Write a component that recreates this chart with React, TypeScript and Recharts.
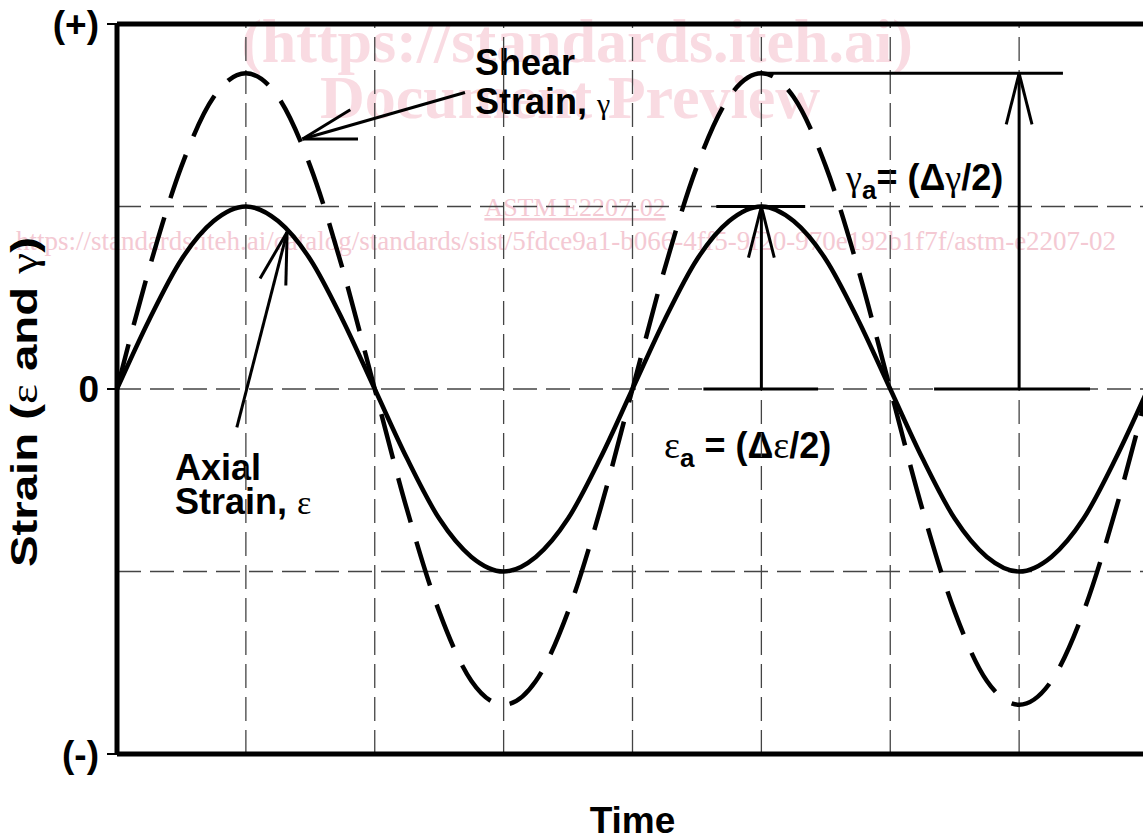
import { LineChart, Line, XAxis, YAxis, ReferenceLine } from 'recharts';

// time in quarter-cycles, read along the x axis
const time = [
  0, 0.25, 0.5, 0.75, 1, 1.25, 1.5, 1.75, 2, 2.25, 2.5, 2.75, 3, 3.25, 3.5, 3.75, 4,
  4.25, 4.5, 4.75, 5, 5.25, 5.5, 5.75, 6, 6.25, 6.5, 6.75, 7, 7.25, 7.5, 7.75, 8,
];
const axialStrain = [
  0, 0.38, 0.71, 0.92, 1, 0.92, 0.71, 0.38, 0, -0.38, -0.71, -0.92, -1, -0.92, -0.71, -0.38, 0,
  0.38, 0.71, 0.92, 1, 0.92, 0.71, 0.38, 0, -0.38, -0.71, -0.92, -1, -0.92, -0.71, -0.38, 0,
];
const shearStrain = [
  0, 0.66, 1.22, 1.6, 1.73, 1.6, 1.22, 0.66, 0, -0.66, -1.22, -1.6, -1.73, -1.6, -1.22, -0.66, 0,
  0.66, 1.22, 1.6, 1.73, 1.6, 1.22, 0.66, 0, -0.66, -1.22, -1.6, -1.73, -1.6, -1.22, -0.66, 0,
];

const gridTimes = [1, 2, 3, 4, 5, 6, 7];
const gridStrains = [-1, 0, 1];
const strainTicks = [-2, 0, 2];
const strainTickLabels: Record<number, string> = { [-2]: '(-)', 0: '0', 2: '(+)' };

// annotation strokes, [t1, strain1, t2, strain2]
const annotationLines = [
  // shear label pointer
  [2.7, 1.625, 1.44, 1.37],
  [1.44, 1.37, 1.81, 1.53],
  [1.44, 1.37, 1.87, 1.37],
  // axial label pointer
  [0.93, -0.21, 1.32, 0.86],
  [1.32, 0.86, 1.11, 0.605],
  [1.32, 0.86, 1.31, 0.567],
  // epsilon amplitude
  [4.55, 0, 5.44, 0],
  [4.65, 1, 5.34, 1],
  [5, 0, 5, 1],
  [5, 1, 4.9, 0.72],
  [5, 1, 5.1, 0.72],
  // gamma amplitude
  [6.34, 0, 7.55, 0],
  [5, 1.73, 7.34, 1.73],
  [7, 0, 7, 1.73],
  [7, 1.73, 6.9, 1.45],
  [7, 1.73, 7.1, 1.45],
];

const data = time.map((t, i) => ({ t, axial: axialStrain[i], shear: shearStrain[i] }));

const SANS = '"Liberation Sans", Arial, sans-serif';
const SERIF = '"Liberation Serif", "Times New Roman", serif';
const PINK = '#f9dbe2';
const PINK_SMALL = '#f4c9d3';

export default function App() {
  return (
    <div
      style={{
        position: 'absolute',
        left: 0,
        top: 0,
        width: 1143,
        height: 840,
        overflow: 'hidden',
        background: '#fff',
      }}
    >
      <LineChart width={1150} height={840} data={data} margin={{ top: 24, right: 2, bottom: 0, left: 0 }}>
        {/* watermark */}
        <text x={577} y={62} textAnchor="middle" fontFamily={SERIF} fontWeight="bold" fontSize={62} fill={PINK}>
          (https://standards.iteh.ai)
        </text>
        <text x={570} y={118} textAnchor="middle" fontFamily={SERIF} fontWeight="bold" fontSize={62} fill={PINK}>
          Document Preview
        </text>
        <text x={575} y={216} textAnchor="middle" fontFamily={SERIF} fontSize={26} fill={PINK_SMALL} textDecoration="underline">
          ASTM E2207-02
        </text>
        <text x={566} y={250} textAnchor="middle" fontFamily={SERIF} fontSize={27} fill={PINK_SMALL}>
          https://standards.iteh.ai/catalog/standards/sist/5fdce9a1-b066-4ff5-9f20-970e192b1f7f/astm-e2207-02
        </text>

        <XAxis
          dataKey="t"
          type="number"
          domain={[0, 8]}
          tick={false}
          tickLine={false}
          height={86}
          axisLine={{ stroke: '#000', strokeWidth: 5 }}
          label={{
            value: 'Time',
            position: 'insideBottom',
            offset: 7,
            fill: '#000',
            fontSize: 37,
            fontWeight: 'bold',
            fontFamily: SANS,
          }}
        />
        <YAxis
          type="number"
          domain={[-2, 2]}
          ticks={strainTicks}
          width={117}
          tickSize={10}
          tickMargin={8}
          tickFormatter={(v: number) => strainTickLabels[v]}
          tick={{ fontSize: 37, fontWeight: 'bold', fill: '#000', fontFamily: SANS }}
          tickLine={{ stroke: '#000', strokeWidth: 2 }}
          axisLine={{ stroke: '#000', strokeWidth: 5 }}
        />

        {gridStrains.map((s) => (
          <ReferenceLine key={`gs${s}`} y={s} stroke="#444" strokeWidth={1.3} strokeDasharray="24 9" />
        ))}
        {gridTimes.map((t) => (
          <ReferenceLine key={`gt${t}`} x={t} stroke="#444" strokeWidth={1.3} strokeDasharray="24 9" />
        ))}
        <ReferenceLine y={2} stroke="#000" strokeWidth={5} />

        <Line
          type="monotone"
          dataKey="axial"
          stroke="#000"
          strokeWidth={4.5}
          dot={false}
          activeDot={false}
          isAnimationActive={false}
        />
        <Line
          type="monotone"
          dataKey="shear"
          stroke="#000"
          strokeWidth={4.5}
          strokeDasharray="46 20"
          dot={false}
          activeDot={false}
          isAnimationActive={false}
        />

        {annotationLines.map(([x1, y1, x2, y2], i) => (
          <ReferenceLine
            key={`a${i}`}
            segment={[
              { x: x1, y: y1 },
              { x: x2, y: y2 },
            ]}
            stroke="#000"
            strokeWidth={3}
          />
        ))}

        {/* axis title */}
        <text
          transform="rotate(-90)"
          x={-402}
          y={37}
          textAnchor="middle"
          fontFamily={SANS}
          fontWeight="bold"
          fontSize={37}
          fill="#000"
          textLength={330}
          lengthAdjust="spacingAndGlyphs"
        >
          Strain (<tspan fontFamily={SERIF} fontWeight="normal">ε</tspan> and{' '}
          <tspan fontFamily={SERIF} fontWeight="normal">γ</tspan>)
        </text>

        {/* labels */}
        <text x={475} y={75} fontFamily={SANS} fontWeight="bold" fontSize={36} fill="#000">
          Shear
        </text>
        <text x={475} y={114} fontFamily={SANS} fontWeight="bold" fontSize={36} fill="#000">
          Strain,{' '}
          <tspan fontFamily={SERIF} fontWeight="normal" fontSize={30}>
            γ
          </tspan>
        </text>
        <text x={175} y={480} fontFamily={SANS} fontWeight="bold" fontSize={36} fill="#000">
          Axial
        </text>
        <text x={175} y={514} fontFamily={SANS} fontWeight="bold" fontSize={36} fill="#000">
          Strain,{' '}
          <tspan fontFamily={SERIF} fontWeight="normal" fontSize={34}>
            ε
          </tspan>
        </text>
        <text x={664} y={458} fontFamily={SANS} fontWeight="bold" fontSize={36} fill="#000">
          <tspan fontFamily={SERIF} fontWeight="normal" fontSize={38}>
            ε
          </tspan>
          <tspan dy={9} fontSize={26}>
            a
          </tspan>
          <tspan dy={-9}> = (Δ</tspan>
          <tspan fontFamily={SERIF} fontWeight="normal" fontSize={38}>
            ε
          </tspan>
          <tspan>/2)</tspan>
        </text>
        <text x={846} y={190} fontFamily={SANS} fontWeight="bold" fontSize={36} fill="#000">
          <tspan fontFamily={SERIF} fontWeight="normal" fontSize={36}>
            γ
          </tspan>
          <tspan dy={9} fontSize={26}>
            a
          </tspan>
          <tspan dy={-9}>= (Δ</tspan>
          <tspan fontFamily={SERIF} fontWeight="normal" fontSize={36}>
            γ
          </tspan>
          <tspan>/2)</tspan>
        </text>
      </LineChart>
    </div>
  );
}
